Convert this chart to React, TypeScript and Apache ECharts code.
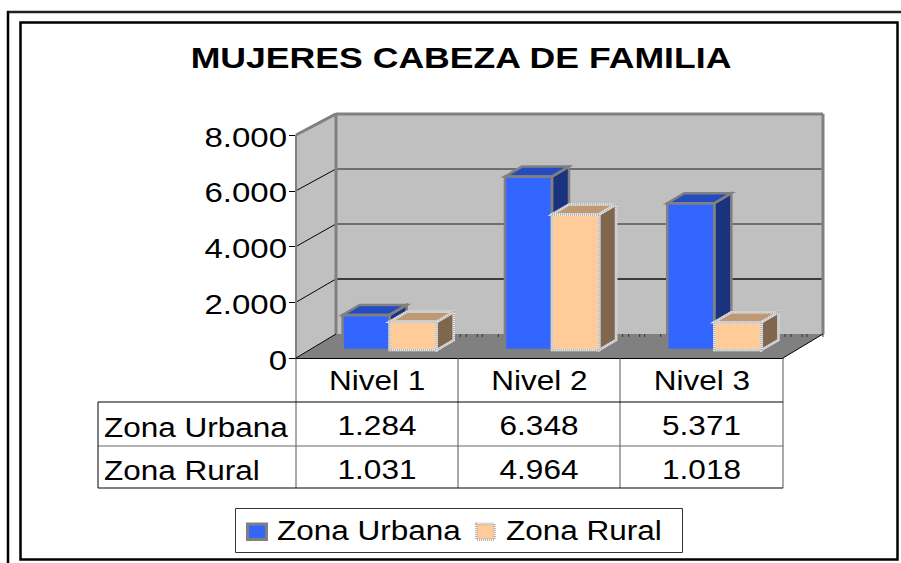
import React, { useEffect, useRef } from "react";
import * as echarts from "echarts";

const categories = ["Nivel 1", "Nivel 2", "Nivel 3"];
const urbana = [1284, 6348, 5371];
const rural = [1031, 4964, 1018];
const seriesNames = ["Zona Urbana", "Zona Rural"];
const titleText = "MUJERES CABEZA DE FAMILIA";
const yMax = 8000;
const yStep = 2000;
const yTicks = [0, 2000, 4000, 6000, 8000];

const fmt = (v: number) =>
  String(v).replace(/\B(?=(\d{3})+(?!\d))/g, ".");

const FONT = "'Liberation Sans', Arial, sans-serif";
const TEXT_SIZE = 27.5;
const TEXT_STRETCH = 1.146;
const TICK_STRETCH = 1.2;
const DX = 40;
const DY = -24;
const floorTickOffsets = [-38, -32, -21, -16, 0];

function poly(points: number[][], fill: string, stroke?: string, lineWidth = 1, extra: any = {}) {
  return {
    type: "polygon",
    shape: { points },
    style: { fill, stroke: stroke || "none", lineWidth, ...extra },
  };
}

function line(p: number[], q: number[], stroke: string, lineWidth = 1) {
  return {
    type: "line",
    shape: { x1: p[0], y1: p[1], x2: q[0], y2: q[1] },
    style: { stroke, lineWidth },
  };
}

function label(text: string, x: number, y: number, align: string, z = 20, stretch = TEXT_STRETCH) {
  return {
    type: "text",
    x,
    y,
    z,
    scaleX: stretch,
    style: { text, fill: "#000", font: `${TEXT_SIZE}px ${FONT}`, align, verticalAlign: "middle" },
  };
}

const renderWalls = (_: any, api: any) => {
  const o = api.coord([0, 0]);
  const size = api.size([1, 0])[0];
  const x0 = o[0] - size / 2;
  const x1 = x0 + size * categories.length;
  const y0 = o[1];
  const top = api.coord([0, yMax])[1];
  const children: any[] = [];
  const back = (v: number) => y0 + DY + (api.coord([0, v])[1] - y0) * 0.987;
  const bt = back(yMax);
  const bb = y0 + DY;
  children.push(poly([[x0, y0], [x1, y0], [x1 + DX, bb], [x0 + DX, bb]], "#808080"));
  children.push(poly([[x0, y0], [x0 + DX, bb], [x0 + DX, bt], [x0, top]], "#c0c0c0"));
  children.push(poly([[x0 + DX, bb], [x1 + DX, bb], [x1 + DX, bt], [x0 + DX, bt]], "#c0c0c0"));
  categories.forEach((_c, i) => {
    const bx = x0 + DX + size * (i + 1);
    floorTickOffsets.forEach((off) => {
      children.push(line([bx + off, bb], [bx + off, bb + 3], "#333", 1));
    });
  });
  yTicks.slice(1, -1).forEach((v, i) => {
    const fy = api.coord([0, v])[1];
    const by = back(v);
    children.push(line([x0, fy], [x0 + DX, by], "#000", 1));
    children.push(line([x0 + DX, by], [x1 + DX, by], i === 0 ? "#111" : "#555", 1.5));
  });
  children.push(line([x0, top], [x0 + DX, bt], "#808080", 3));
  children.push(line([x0 + DX, bt], [x1 + DX, bt], "#808080", 3));
  children.push(line([x0 + DX, bt], [x0 + DX, bb], "#808080", 3));
  children.push(line([x1 + DX, bt], [x1 + DX, bb], "#808080", 3));
  children.push(line([x0, top], [x0, y0], "#808080", 2));
  children.push(line([x0, y0], [x0 + DX, bb], "#000", 1));
  children.push(line([x1, y0], [x1 + DX, bb], "#000", 1));
  yTicks.forEach((v) => {
    children.push(label(fmt(v), x0 - 9, api.coord([0, v])[1] + 2, "right", 20, TICK_STRETCH));
  });
  categories.forEach((c, i) => {
    children.push(label(c, api.coord([i, 0])[0], y0 + 22.5, "center"));
  });
  return { type: "group", children };
};

const makeBars = (
  seriesOffset: number,
  front: string,
  topFace: string,
  sideFace: string,
  hatched: boolean,
) => (_: any, api: any) => {
  const idx = api.value(0);
  const val = api.value(1);
  const size = api.size([1, 0])[0];
  const w = size * 0.29;
  const c0 = api.coord([idx, 0]);
  const c1 = api.coord([idx, val]);
  const base = c0[1] - 8;
  const yTop = base - (c0[1] - c1[1]) * 0.98;
  const x0 = c0[0] + 12.5 + (seriesOffset - 1) * w;
  const x1 = x0 + w;
  const dx = 17;
  const dy = -10;
  const extra = hatched ? { lineDash: [1, 1] } : {};
  const outlines = [
    [[x1, yTop], [x1 + dx, yTop + dy], [x1 + dx, base + dy], [x1, base]],
    [[x0, yTop], [x1, yTop], [x1 + dx, yTop + dy], [x0 + dx, yTop + dy]],
    [[x0, yTop], [x1, yTop], [x1, base], [x0, base]],
  ];
  const fills = [sideFace, topFace, front];
  const children: any[] = outlines.map((pts, i) => poly(pts, fills[i]));
  outlines.forEach((pts) => {
    if (hatched) children.push(poly(pts, "none", "#e8e8e8", 2.5));
    children.push(poly(pts, "none", hatched ? "#b4b4b4" : "#808080", 2.5, extra));
  });
  return { type: "group", children };
};

export default function App() {
  const ref = useRef<HTMLDivElement>(null);
  useEffect(() => {
    if (!ref.current) return;
    const chart = echarts.init(ref.current, undefined, { renderer: "svg" });

    const colX = [296, 458, 620, 783];
    const rowY = [358, 402, 446, 488];
    const rule = (x1: number, y1: number, x2: number, y2: number, stroke: string, lineWidth = 1) => ({
      type: "line",
      z: 20,
      shape: { x1, y1, x2, y2 },
      style: { stroke, lineWidth },
    });

    const graphics: any[] = [
      rule(7, 12, 901, 12, "#222", 2.5),
      rule(8, 11, 8, 563, "#000", 2.5),
      { type: "rect", z: 0, shape: { x: 20.5, y: 22.5, width: 877, height: 537 }, style: { fill: "none", stroke: "#000", lineWidth: 2.5 } },
      {
        type: "text",
        x: 461,
        y: 58,
        z: 20,
        scaleX: 1.228,
        style: { text: titleText, fill: "#000", font: `bold 29px ${FONT}`, align: "center", verticalAlign: "middle" },
      },
      rule(colX[0], rowY[0], colX[0], rowY[3], "#555"),
      rule(colX[1], rowY[0], colX[1], rowY[3], "#555"),
      rule(colX[2], rowY[0], colX[2], rowY[3], "#555"),
      rule(colX[3], rowY[0], colX[3], rowY[3], "#555"),
      rule(98, rowY[1], colX[3], rowY[1], "#000"),
      rule(98, rowY[2], colX[3], rowY[2], "#666"),
      rule(98, rowY[3], colX[3], rowY[3], "#000"),
      rule(98, rowY[1], 98, rowY[3], "#000"),
      label(seriesNames[0], 104, 427, "left"),
      label(seriesNames[1], 104, 470, "left"),
      { type: "rect", z: 20, shape: { x: 235.5, y: 508.5, width: 447, height: 44 }, style: { fill: "#fff", stroke: "#333", lineWidth: 1 } },
      { type: "rect", z: 21, shape: { x: 247.5, y: 524, width: 19, height: 15.5 }, style: { fill: "#3366ff", stroke: "#808080", lineWidth: 3 } },
      { type: "rect", z: 21, shape: { x: 476.5, y: 524, width: 18, height: 15.5 }, style: { fill: "#ffcc99", stroke: "#b8b8b8", lineWidth: 3, lineDash: [1, 1] } },
      label(seriesNames[0], 277, 530, "left", 21),
      label(seriesNames[1], 506, 530, "left", 21),
    ];
    categories.forEach((_, i) => {
      const cx = (colX[i] + colX[i + 1]) / 2;
      graphics.push(label(fmt(urbana[i]), cx, 425.5, "center"));
      graphics.push(label(fmt(rural[i]), cx, 469, "center"));
    });

    chart.setOption({
      animation: false,
      grid: { left: 296, top: 135, width: 487, height: 223, containLabel: false },
      xAxis: {
        type: "category",
        data: categories,
        axisLine: { show: true, lineStyle: { color: "#000", width: 1 } },
        axisTick: { show: false },
        axisLabel: { show: false },
        splitLine: { show: false },
        z: 10,
      },
      yAxis: {
        type: "value",
        min: 0,
        max: yMax,
        interval: yStep,
        axisLine: { show: false },
        axisTick: { show: true, length: 7, lineStyle: { color: "#000" } },
        axisLabel: { show: false },
        splitLine: { show: false },
      },
      graphic: graphics,
      series: [
        {
          type: "custom",
          name: "walls",
          silent: true,
          clip: false,
          z: 1,
          data: [[0, 0]],
          renderItem: renderWalls,
        },
        {
          type: "custom",
          name: seriesNames[0],
          clip: false,
          z: 2,
          itemStyle: { color: "#3366ff" },
          data: urbana.map((v, i) => [i, v]),
          encode: { x: 0, y: 1 },
          renderItem: makeBars(0, "#3366ff", "#234cc0", "#19337f", false),
        },
        {
          type: "custom",
          name: seriesNames[1],
          clip: false,
          z: 3,
          itemStyle: { color: "#ffcc99" },
          data: rural.map((v, i) => [i, v]),
          encode: { x: 0, y: 1 },
          renderItem: makeBars(1, "#ffcc99", "#bf9973", "#7f664c", true),
        },
      ],
    });
    return () => chart.dispose();
  }, []);
  return (
    <div
      ref={ref}
      style={{ position: "fixed", left: 0, top: 0, width: 901, height: 563, background: "#fff" }}
    />
  );
}
